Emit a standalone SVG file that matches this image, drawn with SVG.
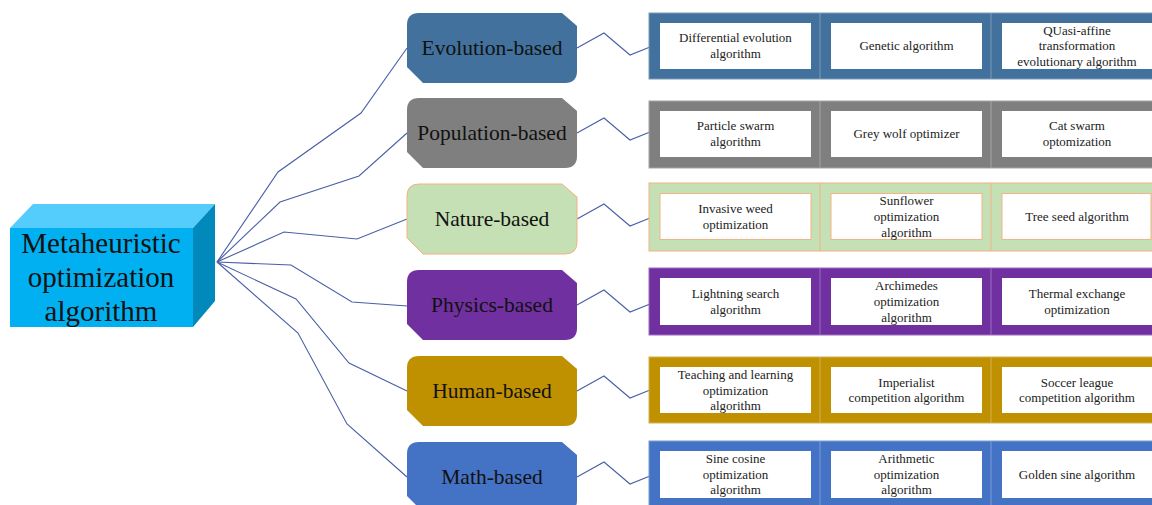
<svg xmlns="http://www.w3.org/2000/svg" width="1152" height="505" viewBox="0 0 1152 505">
  <style>
    .link { fill: none; stroke: #4a5fa6; stroke-width: 1.1; stroke-linejoin: miter; }
    .cat-label { font-family: "Liberation Serif", "Times New Roman", serif; font-size: 21.5px; fill: #111; text-anchor: middle; }
    .cell { fill: #ffffff; }
    .cell-label { font-family: "Liberation Serif", "Times New Roman", serif; font-size: 13px; fill: #222; text-anchor: middle; }
    .root-label { font-family: "Liberation Serif", "Times New Roman", serif; font-size: 29px; fill: #111; text-anchor: middle; }
    .sep { stroke-width: 1; }
  </style>
  <defs>
    <!-- category badge: rounded corners top-left / bottom-right, chamfers top-right / bottom-left -->
    <path id="badge" d="M12,0 H155 L170,13 V58 Q170,70 158,70 H16 L0,54 V12 Q0,0 12,0 Z"/>
  </defs>

  <rect width="1152" height="505" fill="#ffffff"/>

  <!-- connectors -->
  <g id="connectors" class="link">
    <polyline points="217,262 278,172 361,113 407,48"/>
    <polyline points="217,262 280,202 359,176 407,133"/>
    <polyline points="217,262 284,232 357,239 407,219"/>
    <polyline points="217,262 291,265 352,302 407,306"/>
    <polyline points="217,262 296,299 349,363 407,391"/>
    <polyline points="217,262 298,333 347,424 407,477"/>

    <polyline points="577,48 604,33 630,55 650,47"/>
    <polyline points="577,133 604,118 630,140 650,132"/>
    <polyline points="577,219 604,204 630,226 650,218"/>
    <polyline points="577,305 604,290 630,312 650,304"/>
    <polyline points="577,391 604,376 630,398 650,390"/>
    <polyline points="577,477 604,462 630,484 650,476"/>
  </g>

  <!-- root node: 3D block -->
  <g id="root">
    <polygon points="10,228 33,204 215,204 193,228" fill="#55cdfc"/>
    <polygon points="193,228 215,204 215,301 193,327" fill="#0089ba"/>
    <rect x="10" y="228" width="183" height="99" fill="#00b0f0"/>
    <text class="root-label" x="101" y="253">Metaheuristic</text>
    <text class="root-label" x="101" y="287">optimization</text>
    <text class="root-label" x="101" y="321">algorithm</text>
  </g>

  <!-- Evolution-based -->
  <g id="evolution">
    <use href="#badge" transform="translate(407,13)" fill="#41719c"/>
    <text class="cat-label" x="492" y="55">Evolution-based</text>
    <rect x="649" y="13" width="520" height="66" fill="#41719c" stroke="#7d9cba" stroke-width="1"/>
    <line class="sep" x1="820" y1="13" x2="820" y2="79" stroke="#7d9cba"/>
    <line class="sep" x1="991" y1="13" x2="991" y2="79" stroke="#7d9cba"/>
    <rect class="cell" x="660" y="23" width="151" height="46"/>
    <rect class="cell" x="831" y="23" width="151" height="46"/>
    <rect class="cell" x="1002" y="23" width="150" height="46"/>
    <text class="cell-label" x="735.5" y="42">Differential evolution</text>
    <text class="cell-label" x="735.5" y="58">algorithm</text>
    <text class="cell-label" x="906.5" y="50">Genetic algorithm</text>
    <text class="cell-label" x="1077" y="34.5">QUasi-affine</text>
    <text class="cell-label" x="1077" y="50">transformation</text>
    <text class="cell-label" x="1077" y="65.5">evolutionary algorithm</text>
  </g>

  <!-- Population-based -->
  <g id="population">
    <use href="#badge" transform="translate(407,98)" fill="#7f7f7f"/>
    <text class="cat-label" x="492" y="140">Population-based</text>
    <rect x="649" y="101" width="520" height="67" fill="#7f7f7f" stroke="#a5a5a5" stroke-width="1"/>
    <line class="sep" x1="820" y1="101" x2="820" y2="168" stroke="#a5a5a5"/>
    <line class="sep" x1="991" y1="101" x2="991" y2="168" stroke="#a5a5a5"/>
    <rect class="cell" x="660" y="111" width="151" height="46"/>
    <rect class="cell" x="831" y="111" width="151" height="46"/>
    <rect class="cell" x="1002" y="111" width="150" height="46"/>
    <text class="cell-label" x="735.5" y="130">Particle swarm</text>
    <text class="cell-label" x="735.5" y="146">algorithm</text>
    <text class="cell-label" x="906.5" y="138">Grey wolf optimizer</text>
    <text class="cell-label" x="1077" y="130">Cat swarm</text>
    <text class="cell-label" x="1077" y="146">optomization</text>
  </g>

  <!-- Nature-based -->
  <g id="nature">
    <use href="#badge" transform="translate(407,184)" fill="#c5e0b4" stroke="#f4b183" stroke-width="1"/>
    <text class="cat-label" x="492" y="226">Nature-based</text>
    <rect x="649" y="183" width="520" height="68" fill="#c5e0b4" stroke="#f4b183" stroke-width="1"/>
    <line class="sep" x1="820" y1="183" x2="820" y2="251" stroke="#f4b183"/>
    <line class="sep" x1="991" y1="183" x2="991" y2="251" stroke="#f4b183"/>
    <rect class="cell" x="660" y="193.5" width="151" height="46" stroke="#f4b183" stroke-width="1"/>
    <rect class="cell" x="831" y="193.5" width="151" height="46" stroke="#f4b183" stroke-width="1"/>
    <rect class="cell" x="1002" y="193.5" width="149" height="46" stroke="#f4b183" stroke-width="1"/>
    <text class="cell-label" x="735.5" y="213">Invasive weed</text>
    <text class="cell-label" x="735.5" y="229">optimization</text>
    <text class="cell-label" x="906.5" y="205">Sunflower</text>
    <text class="cell-label" x="906.5" y="221">optimization</text>
    <text class="cell-label" x="906.5" y="237">algorithm</text>
    <text class="cell-label" x="1077" y="221">Tree seed algorithm</text>
  </g>

  <!-- Physics-based -->
  <g id="physics">
    <use href="#badge" transform="translate(407,270)" fill="#7030a0"/>
    <text class="cat-label" x="492" y="312">Physics-based</text>
    <rect x="649" y="268" width="520" height="67" fill="#7030a0" stroke="#9b6cc0" stroke-width="1"/>
    <line class="sep" x1="820" y1="268" x2="820" y2="335" stroke="#9b6cc0"/>
    <line class="sep" x1="991" y1="268" x2="991" y2="335" stroke="#9b6cc0"/>
    <rect class="cell" x="660" y="278" width="151" height="47"/>
    <rect class="cell" x="831" y="278" width="151" height="47"/>
    <rect class="cell" x="1002" y="278" width="150" height="47"/>
    <text class="cell-label" x="735.5" y="298">Lightning search</text>
    <text class="cell-label" x="735.5" y="314">algorithm</text>
    <text class="cell-label" x="906.5" y="290">Archimedes</text>
    <text class="cell-label" x="906.5" y="306">optimization</text>
    <text class="cell-label" x="906.5" y="321.5">algorithm</text>
    <text class="cell-label" x="1077" y="298">Thermal exchange</text>
    <text class="cell-label" x="1077" y="314">optimization</text>
  </g>

  <!-- Human-based -->
  <g id="human">
    <use href="#badge" transform="translate(407,356)" fill="#bf9000"/>
    <text class="cat-label" x="492" y="398">Human-based</text>
    <rect x="649" y="357" width="520" height="66" fill="#bf9000" stroke="#d4b050" stroke-width="1"/>
    <line class="sep" x1="820" y1="357" x2="820" y2="423" stroke="#d4b050"/>
    <line class="sep" x1="991" y1="357" x2="991" y2="423" stroke="#d4b050"/>
    <rect class="cell" x="660" y="367" width="151" height="46"/>
    <rect class="cell" x="831" y="367" width="151" height="46"/>
    <rect class="cell" x="1002" y="367" width="150" height="46"/>
    <text class="cell-label" x="735.5" y="378.5">Teaching and learning</text>
    <text class="cell-label" x="735.5" y="394.5">optimization</text>
    <text class="cell-label" x="735.5" y="410">algorithm</text>
    <text class="cell-label" x="906.5" y="386.5">Imperialist</text>
    <text class="cell-label" x="906.5" y="402">competition algorithm</text>
    <text class="cell-label" x="1077" y="386.5">Soccer league</text>
    <text class="cell-label" x="1077" y="402">competition algorithm</text>
  </g>

  <!-- Math-based -->
  <g id="math">
    <use href="#badge" transform="translate(407,442)" fill="#4472c4"/>
    <text class="cat-label" x="492" y="484">Math-based</text>
    <rect x="649" y="441" width="520" height="70" fill="#4472c4" stroke="#7b9bd6" stroke-width="1"/>
    <line class="sep" x1="820" y1="441" x2="820" y2="505" stroke="#7b9bd6"/>
    <line class="sep" x1="991" y1="441" x2="991" y2="505" stroke="#7b9bd6"/>
    <rect class="cell" x="660" y="451" width="151" height="47"/>
    <rect class="cell" x="831" y="451" width="151" height="47"/>
    <rect class="cell" x="1002" y="451" width="150" height="47"/>
    <text class="cell-label" x="735.5" y="462.5">Sine cosine</text>
    <text class="cell-label" x="735.5" y="478.5">optimization</text>
    <text class="cell-label" x="735.5" y="494">algorithm</text>
    <text class="cell-label" x="906.5" y="462.5">Arithmetic</text>
    <text class="cell-label" x="906.5" y="478.5">optimization</text>
    <text class="cell-label" x="906.5" y="494">algorithm</text>
    <text class="cell-label" x="1077" y="478.5">Golden sine algorithm</text>
  </g>
</svg>
